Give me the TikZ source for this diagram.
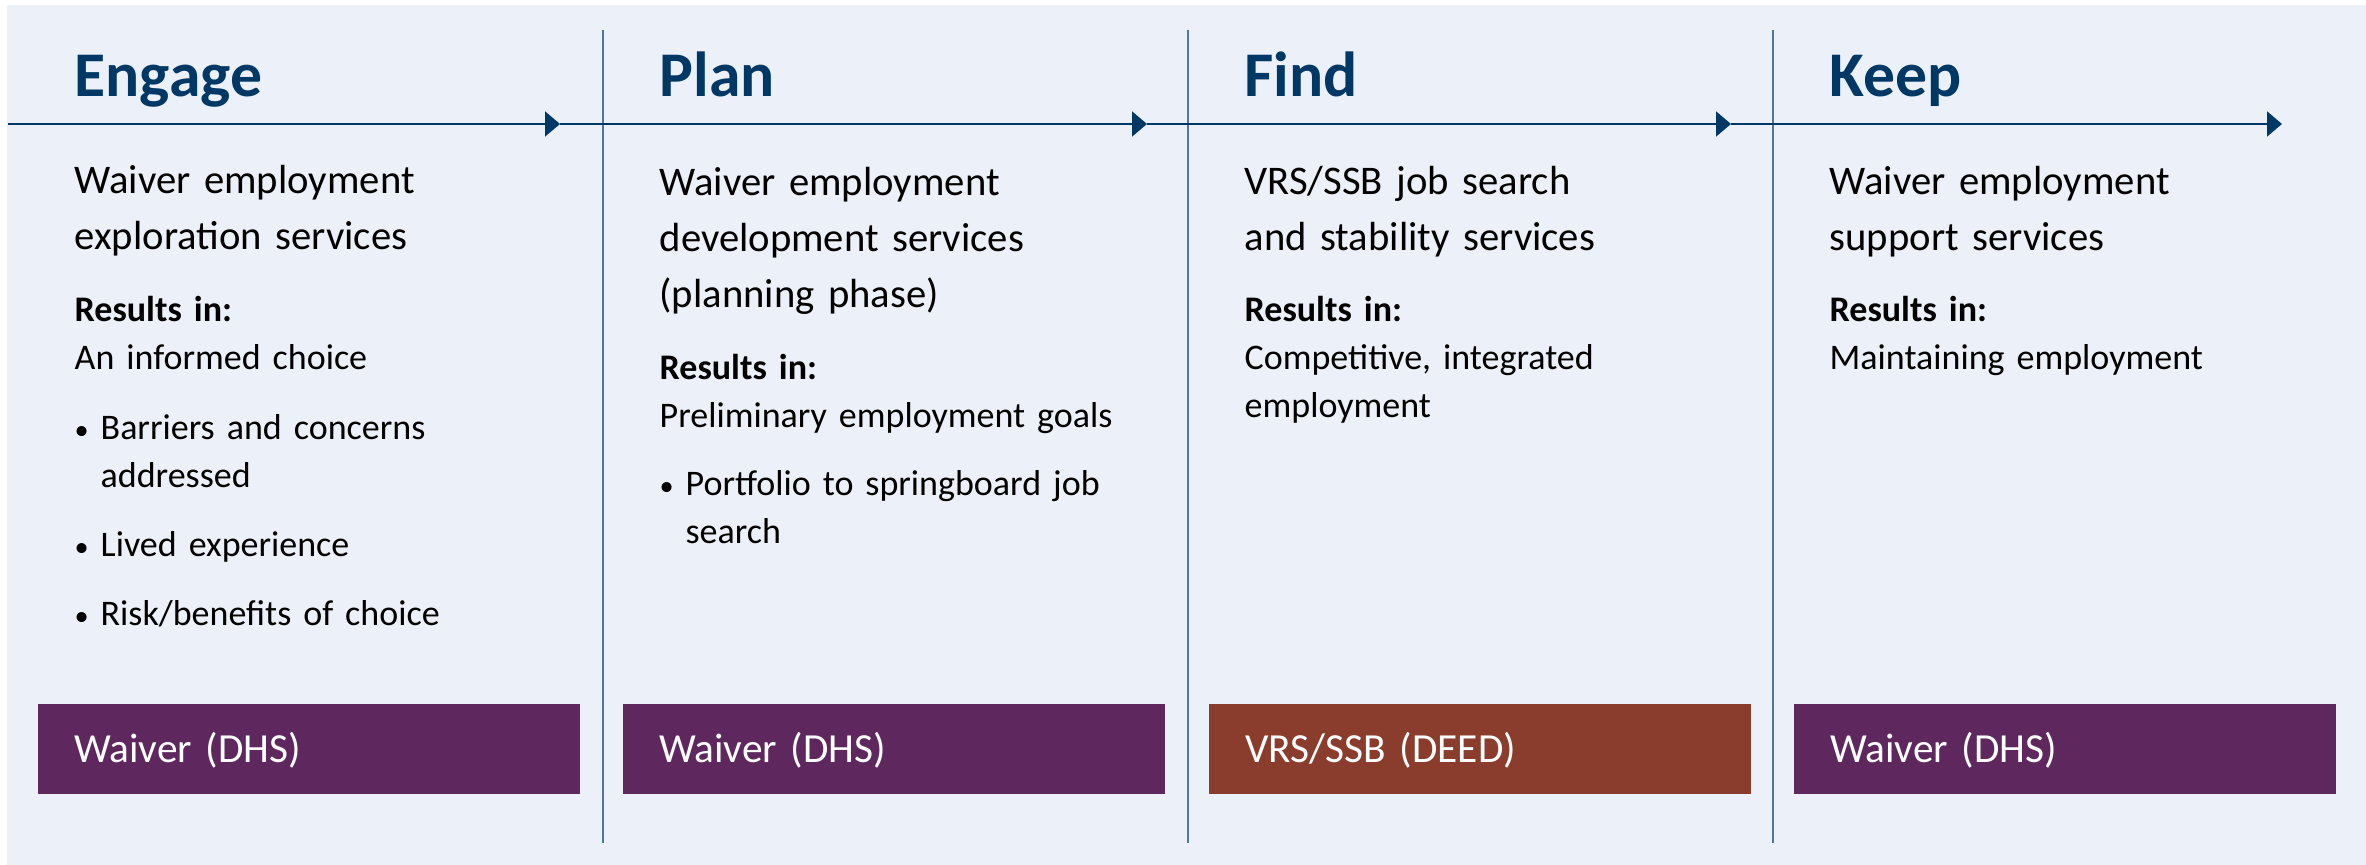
\documentclass[tikz,border=0pt]{standalone}
\usepackage{fontspec}
\setmainfont{Carlito}
\usetikzlibrary{arrows.meta}
\definecolor{bgblue}{RGB}{236,240,248}
\definecolor{navy}{RGB}{0,56,101}
\definecolor{divblue}{RGB}{79,118,160}
\definecolor{waiverpurple}{RGB}{94,40,94}
\definecolor{deedbrown}{RGB}{139,61,45}
\newcommand{\bul}{\hangindent=7.8pt\hangafter=1\noindent\makebox[7.8pt][l]{{\fontsize{8.5}{8.5}\selectfont\textbullet}}}

\begin{document}
\begin{tikzpicture}[x=0.3pt, y=-0.3pt,
  phase/.style={anchor=base west, inner sep=0pt, text=navy, font=\fontsize{19.1}{23}\selectfont\bfseries},
  lead/.style={anchor=base west, inner sep=0pt, text width=160pt, align=left, font=\fontsize{12.2}{16.8}\selectfont},
  restext/.style={anchor=base west, inner sep=0pt, text width=160pt, align=left, font=\fontsize{10.8}{14.4}\selectfont},
  reslabel/.style={restext, font=\fontsize{10.8}{14.4}\selectfont\bfseries},
  fundbox/.style={anchor=north west, minimum width=162.6pt, minimum height=27pt, inner xsep=11pt, inner ysep=0pt,
    text width=140.6pt, align=left, text height=8.1pt, text depth=0pt, text=white, font=\fontsize{12.4}{15}\selectfont},
  divider/.style={divblue, line width=0.6pt},
  flowline/.style={navy, line width=0.6pt, -{Triangle[length=4.5pt, width=7.5pt]}}]
\useasboundingbox (0,0) rectangle (2366,865);
\fill[bgblue] (7,5) rectangle (2366,865);

% column separators
\foreach \x in {603,1188,1773}
  \draw[divider] (\x,30) -- (\x,843);

% timeline
\coordinate (start) at (8,124);
\coordinate (tip1) at (560,124);
\coordinate (tip2) at (1147,124);
\coordinate (tip3) at (1731,124);
\coordinate (tip4) at (2282,124);
\draw[flowline] (start) -- (tip1);
\draw[flowline] (tip1) -- (tip2);
\draw[flowline] (tip2) -- (tip3);
\draw[flowline] (tip3) -- (tip4);

% Engage
\node[phase] (engage) at (74,97) {Engage};
\node[lead] (engagelead) at (74,194) {Waiver employment\\exploration services};
\node[reslabel] (engagelabel) at (74,322) {Results in:};
\node[restext] (engageres) at (74,370) {An informed choice};
\node[restext] (engagelist) at (74,440) {\setlength{\parskip}{6.3pt}\bul Barriers and concerns\newline addressed\par
  \bul Lived experience\par\bul Risk/benefits of choice\par};
\node[fundbox, fill=waiverpurple] (engagefund) at (37,703) {Waiver (DHS)};

% Plan
\node[phase] (plan) at (659,97) {Plan};
\node[lead] (planlead) at (659,196) {Waiver employment\\development services\\(planning phase)};
\node[reslabel] (planlabel) at (659,380) {Results in:};
\node[restext] (planres) at (659,428) {Preliminary employment goals};
\node[restext] (planlist) at (659,496) {\bul Portfolio to springboard job\newline search\par};
\node[fundbox, fill=waiverpurple] (planfund) at (622,703) {Waiver (DHS)};

% Find
\node[phase] (find) at (1244,97) {Find};
\node[lead] (findlead) at (1244,195) {VRS/SSB job search\\and stability services};
\node[reslabel] (findlabel) at (1244,322) {Results in:};
\node[restext] (findres) at (1244,370) {Competitive, integrated\\employment};
\node[fundbox, fill=deedbrown] (findfund) at (1208,703) {VRS/SSB (DEED)};

% Keep
\node[phase] (keep) at (1829,97) {Keep};
\node[lead] (keeplead) at (1829,195) {Waiver employment\\support services};
\node[reslabel] (keeplabel) at (1829,322) {Results in:};
\node[restext] (keepres) at (1829,370) {Maintaining employment};
\node[fundbox, fill=waiverpurple] (keepfund) at (1793,703) {Waiver (DHS)};
\end{tikzpicture}
\end{document}
